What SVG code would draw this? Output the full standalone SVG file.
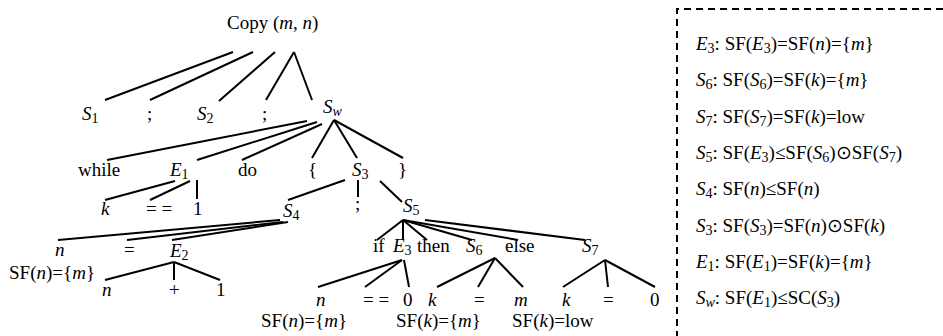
<svg xmlns="http://www.w3.org/2000/svg" width="943" height="336" viewBox="0 0 943 336">
<style>
text{font-family:"Liberation Serif","Times New Roman",serif;font-size:19px;fill:#000}
.i{font-style:italic}
.s{font-size:14px;font-style:normal}
.si{font-size:14px;font-style:italic}
.c line{stroke:#000;stroke-width:2}
.box{fill:none;stroke:#000;stroke-width:2;stroke-dasharray:7 5}
</style>
<rect width="943" height="336" fill="#fff"/>
<g class="c" id="connectors">
<line x1="233" y1="52" x2="105" y2="100"/>
<line x1="253" y1="52" x2="150" y2="100"/>
<line x1="275" y1="52" x2="219" y2="101"/>
<line x1="294" y1="52" x2="266" y2="100"/>
<line x1="294" y1="52" x2="312" y2="100"/>
<line x1="307" y1="121" x2="107" y2="160"/>
<line x1="317" y1="122" x2="197" y2="160"/>
<line x1="322" y1="124" x2="242" y2="160"/>
<line x1="334" y1="120" x2="312" y2="158"/>
<line x1="334" y1="120" x2="357" y2="158"/>
<line x1="334" y1="120" x2="403" y2="158"/>
<line x1="175" y1="181" x2="105" y2="200"/>
<line x1="190" y1="181" x2="150" y2="200"/>
<line x1="197" y1="180" x2="197" y2="199"/>
<line x1="345" y1="180" x2="288" y2="200"/>
<line x1="358" y1="180" x2="358" y2="197"/>
<line x1="380" y1="181" x2="402" y2="202"/>
<line x1="280" y1="220" x2="58" y2="240"/>
<line x1="283" y1="222" x2="127" y2="240"/>
<line x1="288" y1="222" x2="172" y2="240"/>
<line x1="174" y1="262" x2="105" y2="280"/>
<line x1="174" y1="262" x2="174" y2="280"/>
<line x1="174" y1="262" x2="220" y2="280"/>
<line x1="403" y1="220" x2="377" y2="240"/>
<line x1="403" y1="220" x2="403" y2="240"/>
<line x1="403" y1="220" x2="427" y2="240"/>
<line x1="403" y1="220" x2="472" y2="240"/>
<line x1="403" y1="220" x2="518" y2="240"/>
<line x1="425" y1="220" x2="585" y2="240"/>
<line x1="402" y1="260" x2="318" y2="287"/>
<line x1="402" y1="260" x2="365" y2="287"/>
<line x1="404" y1="260" x2="409" y2="287"/>
<line x1="495" y1="258" x2="437" y2="287"/>
<line x1="495" y1="258" x2="478" y2="287"/>
<line x1="495" y1="258" x2="523" y2="287"/>
<line x1="605" y1="260" x2="563" y2="287"/>
<line x1="605" y1="260" x2="608" y2="287"/>
<line x1="605" y1="260" x2="655" y2="287"/>
</g>
<g font-family="Liberation Serif, serif">
<g id="copy"><text x="227" y="29">Copy (<tspan class="i">m</tspan>, <tspan class="i">n</tspan>)</text></g>
<g id="S1"><text x="82" y="120"><tspan class="i">S</tspan><tspan class="s" dy="3">1</tspan></text></g>
<g id="semi1"><text x="147" y="120">;</text></g>
<g id="S2"><text x="197" y="120"><tspan class="i">S</tspan><tspan class="s" dy="3">2</tspan></text></g>
<g id="semi2"><text x="262" y="120">;</text></g>
<g id="Sw"><text x="323" y="113"><tspan class="i">S</tspan><tspan class="si" dy="3">w</tspan></text></g>
<g id="while"><text x="78" y="176">while</text></g>
<g id="E1"><text x="170" y="176"><tspan class="i">E</tspan><tspan class="s" dy="3">1</tspan></text></g>
<g id="do"><text x="238" y="176">do</text></g>
<g id="lbrace"><text x="308" y="176">{</text></g>
<g id="S3"><text x="352" y="176"><tspan class="i">S</tspan><tspan class="s" dy="3">3</tspan></text></g>
<g id="rbrace"><text x="398" y="176">}</text></g>
<g id="k1"><text x="101" y="215" class="i">k</text></g>
<g id="eqeq1"><text x="146" y="215">= =</text></g>
<g id="one1"><text x="193" y="215">1</text></g>
<g id="S4"><text x="283" y="217"><tspan class="i">S</tspan><tspan class="s" dy="3">4</tspan></text></g>
<g id="semi3"><text x="355" y="210">;</text></g>
<g id="S5"><text x="403" y="212"><tspan class="i">S</tspan><tspan class="s" dy="3">5</tspan></text></g>
<g id="n1"><text x="55" y="256" class="i">n</text></g>
<g id="sfn1"><text x="9" y="279">SF(<tspan class="i">n</tspan>)={<tspan class="i">m</tspan>}</text></g>
<g id="eq1"><text x="124" y="256">=</text></g>
<g id="E2"><text x="170" y="257"><tspan class="i">E</tspan><tspan class="s" dy="3">2</tspan></text></g>
<g id="n2"><text x="102" y="296" class="i">n</text></g>
<g id="plus"><text x="169" y="296">+</text></g>
<g id="one2"><text x="216" y="296">1</text></g>
<g id="if"><text x="373" y="252">if</text></g>
<g id="E3"><text x="393" y="252"><tspan class="i">E</tspan><tspan class="s" dy="3">3</tspan></text></g>
<g id="then"><text x="417" y="252">then</text></g>
<g id="S6"><text x="466" y="252"><tspan class="i">S</tspan><tspan class="s" dy="3">6</tspan></text></g>
<g id="else"><text x="505" y="252">else</text></g>
<g id="S7"><text x="582" y="252"><tspan class="i">S</tspan><tspan class="s" dy="3">7</tspan></text></g>
<g id="n3"><text x="316" y="306" class="i">n</text></g>
<g id="eqeq2"><text x="363" y="306">= =</text></g>
<g id="zero1"><text x="403" y="306">0</text></g>
<g id="k2"><text x="428" y="306" class="i">k</text></g>
<g id="eq2"><text x="474" y="306">=</text></g>
<g id="m1"><text x="514" y="306" class="i">m</text></g>
<g id="k3"><text x="562" y="306" class="i">k</text></g>
<g id="eq3"><text x="603" y="306">=</text></g>
<g id="zero2"><text x="650" y="306">0</text></g>
<g id="sfn2"><text x="261" y="327">SF(<tspan class="i">n</tspan>)={<tspan class="i">m</tspan>}</text></g>
<g id="sfk1"><text x="396" y="327">SF(<tspan class="i">k</tspan>)={<tspan class="i">m</tspan>}</text></g>
<g id="sfk2"><text x="512" y="327">SF(<tspan class="i">k</tspan>)=low</text></g>
<g id="legend">
<path class="box" d="M943 9H677V336"/>
<text x="696" y="50"><tspan class="i">E</tspan><tspan class="s" dy="3">3</tspan><tspan dy="-3">: SF(</tspan><tspan class="i">E</tspan><tspan class="s" dy="3">3</tspan><tspan dy="-3">)=SF(</tspan><tspan class="i">n</tspan>)={<tspan class="i">m</tspan>}</text>
<text x="696" y="86"><tspan class="i">S</tspan><tspan class="s" dy="3">6</tspan><tspan dy="-3">: SF(</tspan><tspan class="i">S</tspan><tspan class="s" dy="3">6</tspan><tspan dy="-3">)=SF(</tspan><tspan class="i">k</tspan>)={<tspan class="i">m</tspan>}</text>
<text x="696" y="123"><tspan class="i">S</tspan><tspan class="s" dy="3">7</tspan><tspan dy="-3">: SF(</tspan><tspan class="i">S</tspan><tspan class="s" dy="3">7</tspan><tspan dy="-3">)=SF(</tspan><tspan class="i">k</tspan>)=low</text>
<text x="696" y="159"><tspan class="i">S</tspan><tspan class="s" dy="3">5</tspan><tspan dy="-3">: SF(</tspan><tspan class="i">E</tspan><tspan class="s" dy="3">3</tspan><tspan dy="-3">)≤SF(</tspan><tspan class="i">S</tspan><tspan class="s" dy="3">6</tspan><tspan dy="-3">)⊙SF(</tspan><tspan class="i">S</tspan><tspan class="s" dy="3">7</tspan><tspan dy="-3">)</tspan></text>
<text x="696" y="195"><tspan class="i">S</tspan><tspan class="s" dy="3">4</tspan><tspan dy="-3">: SF(</tspan><tspan class="i">n</tspan>)≤SF(<tspan class="i">n</tspan>)</text>
<text x="696" y="232"><tspan class="i">S</tspan><tspan class="s" dy="3">3</tspan><tspan dy="-3">: SF(</tspan><tspan class="i">S</tspan><tspan class="s" dy="3">3</tspan><tspan dy="-3">)=SF(</tspan><tspan class="i">n</tspan>)⊙SF(<tspan class="i">k</tspan>)</text>
<text x="696" y="268"><tspan class="i">E</tspan><tspan class="s" dy="3">1</tspan><tspan dy="-3">: SF(</tspan><tspan class="i">E</tspan><tspan class="s" dy="3">1</tspan><tspan dy="-3">)=SF(</tspan><tspan class="i">k</tspan>)={<tspan class="i">m</tspan>}</text>
<text x="696" y="304"><tspan class="i">S</tspan><tspan class="si" dy="3">w</tspan><tspan dy="-3">: SF(</tspan><tspan class="i">E</tspan><tspan class="s" dy="3">1</tspan><tspan dy="-3">)≤SC(</tspan><tspan class="i">S</tspan><tspan class="s" dy="3">3</tspan><tspan dy="-3">)</tspan></text>
</g>
</g>
</svg>
